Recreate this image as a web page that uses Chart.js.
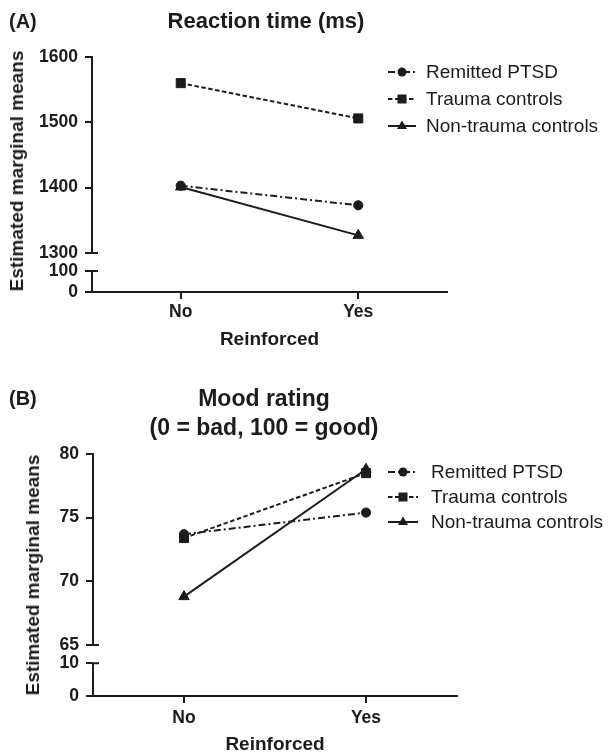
<!DOCTYPE html>
<html>
<head>
<meta charset="utf-8">
<script src="https://cdn.jsdelivr.net/npm/chart.js@4.4.1/dist/chart.umd.min.js"></script>
<style>
html, body { margin: 0; padding: 0; background: #fff; width: 611px; height: 755px; overflow: hidden; }
body { position: relative; font-family: "Liberation Sans", Arial, sans-serif; color: #1c1c1c; }
.panel { position: absolute; left: 0; width: 611px; }
.panel canvas { position: absolute; left: 0; top: 0; }
.tag { position: absolute; left: 9px; font-weight: bold; font-size: 20px; line-height: 24px; }
.title { position: absolute; font-weight: bold; text-align: center; white-space: nowrap;
         transform: translateX(-50%); }
.ytitle { position: absolute; font-weight: bold; font-size: 19px; white-space: nowrap;
          transform: translate(-50%, -50%) rotate(-90deg); }
.legend { position: absolute; left: 388px; font-size: 19px; }
.legend .row { display: flex; align-items: center; }
.legend svg { display: block; }
</style>
</head>
<body>

<div class="panel" id="panelA" style="top:0;height:355px;">
    <canvas id="chartA" width="530" height="355"></canvas>
    <div class="tag" style="top:9px;">(A)</div>
    <div class="title" style="left:266px;top:8px;font-size:22px;line-height:26px;">Reaction time (ms)</div>
    <div class="ytitle" style="left:17px;top:171px;">Estimated marginal means</div>
    <div class="legend" id="legendA" style="top:58px;"></div>
</div>

<div class="panel" id="panelB" style="top:360px;height:395px;">
    <canvas id="chartB" width="530" height="398"></canvas>
    <div class="tag" style="top:26px;">(B)</div>
    <div class="title" style="left:264px;top:24px;font-size:23px;line-height:28.7px;">Mood rating<br>(0 = bad, 100 = good)</div>
    <div class="ytitle" style="left:33px;top:215px;">Estimated marginal means</div>
    <div class="legend" id="legendB" style="top:99px;"></div>
</div>

<script>
// Chart data
const categories = ["No", "Yes"];
const seriesNames = ["Remitted PTSD", "Trauma controls", "Non-trauma controls"];

// (A) Reaction time (ms)
const rtRemitted = [1403, 1373];
const rtTrauma = [1560, 1506];
const rtNonTrauma = [1401, 1327];

// (B) Mood rating
const moodRemitted = [73.7, 75.4];
const moodTrauma = [73.4, 78.5];
const moodNonTrauma = [68.8, 78.8];

// Axis ticks (upper part / lower part of the broken axis)
const rtTicks = [1300, 1400, 1500, 1600];
const rtLowTicks = [0, 100];
const moodTicks = [65, 70, 75, 80];
const moodLowTicks = [0, 10];

const INK = "#1c1c1c";
const FONT = "'Liberation Sans', Arial, sans-serif";

// line style per group
const seriesStyle = [
    { dash: [7, 3, 2, 3], point: "circle", radius: 4.6 },
    { dash: [4.5, 2.5], point: "rect", radius: 6.4 },
    { dash: [], point: "triangle", radius: 6 }
];

// draws the lower piece of the y axis and the caps at the break
const axisBreak = {
    id: "axisBreak",
    afterDraw(chart) {
        const up = chart.scales.y;
        const low = chart.scales.yLow;
        const ctx = chart.ctx;
        const x = chart.chartArea.left;
        const lowTop = low.getPixelForValue(low.ticks[low.ticks.length - 1].value);
        const lowBottom = low.getPixelForValue(0);
        const upBottom = up.getPixelForValue(up.min);
        ctx.save();
        ctx.strokeStyle = INK;
        ctx.lineWidth = 2;
        ctx.beginPath();
        ctx.moveTo(x, lowTop - 1);
        ctx.lineTo(x, lowBottom);
        ctx.moveTo(x - 1, upBottom);
        ctx.lineTo(x + 6, upBottom);
        ctx.moveTo(x - 1, lowTop);
        ctx.lineTo(x + 6, lowTop);
        ctx.stroke();
        ctx.restore();
    }
};

function makeDatasets(values) {
    return values.map((vals, i) => ({
        label: seriesNames[i],
        data: vals,
        borderColor: INK,
        backgroundColor: INK,
        borderWidth: 2,
        borderDash: seriesStyle[i].dash,
        pointStyle: seriesStyle[i].point,
        pointRadius: seriesStyle[i].radius,
        pointBackgroundColor: INK,
        pointBorderColor: INK,
        pointBorderWidth: 1,
        tension: 0
    }));
}

function makeChart(id, p) {
    const tickFont = { family: FONT, size: 17.5, weight: "bold" };
    return new Chart(document.getElementById(id), {
        type: "line",
        data: { labels: categories, datasets: makeDatasets(p.values) },
        options: {
            responsive: false,
            animation: false,
            layout: { padding: { left: 0, right: p.padRight, top: p.padTop, bottom: 0 } },
            plugins: {
                legend: { display: false },
                tooltip: { enabled: false }
            },
            scales: {
                x: {
                    type: "category",
                    offset: true,
                    afterFit: s => { s.height = p.xHeight; },
                    grid: { drawOnChartArea: false, drawTicks: true, tickLength: 7, color: INK, lineWidth: 2 },
                    border: { display: true, color: INK, width: 2 },
                    ticks: { color: INK, font: tickFont, padding: p.xTickPad, maxRotation: 0 },
                    title: {
                        display: true, text: "Reinforced", color: INK,
                        font: { family: FONT, size: 19, weight: "bold", lineHeight: 1.2 },
                        padding: { top: 0, bottom: p.xTitlePad }
                    }
                },
                y: {
                    type: "linear",
                    position: "left",
                    stack: "left",
                    stackWeight: p.upperWeight,
                    weight: 2,
                    min: p.ticks[0],
                    max: p.ticks[p.ticks.length - 1],
                    afterFit: s => { s.width = p.yWidth; },
                    afterBuildTicks: s => { s.ticks = p.ticks.map(v => ({ value: v })); },
                    grid: { drawOnChartArea: false, drawTicks: true, tickLength: 7, color: INK, lineWidth: 2 },
                    border: { display: true, color: INK, width: 2 },
                    ticks: { color: INK, font: tickFont, padding: 7, callback: v => String(v) }
                },
                yLow: {
                    type: "linear",
                    position: "left",
                    stack: "left",
                    stackWeight: p.lowerWeight,
                    weight: 1,
                    min: 0,
                    max: p.lowMax,
                    afterFit: s => { s.width = p.yWidth; },
                    afterBuildTicks: s => { s.ticks = p.lowTicks.map(v => ({ value: v })); },
                    grid: { drawOnChartArea: false, drawTicks: true, tickLength: 7, color: INK, lineWidth: 2 },
                    border: { display: false },
                    ticks: { color: INK, font: tickFont, padding: 7, callback: v => String(v) }
                }
            }
        },
        plugins: [axisBreak]
    });
}

function makeLegend(id, rowH, symW, gap) {
    const box = document.getElementById(id);
    seriesNames.forEach((name, i) => {
        const st = seriesStyle[i];
        const row = document.createElement("div");
        row.className = "row";
        row.style.height = rowH + "px";
        const c = symW / 2, m = 6;
        let marker = "";
        if (st.point === "circle") marker = `<circle cx="${c}" cy="${m}" r="4.5" fill="${INK}"/>`;
        else if (st.point === "rect") marker = `<rect x="${c - 4.5}" y="${m - 4.5}" width="9" height="9" fill="${INK}"/>`;
        else marker = `<polygon points="${c},${m - 5.5} ${c + 5},${m + 3} ${c - 5},${m + 3}" fill="${INK}"/>`;
        const dash = st.dash.length ? `stroke-dasharray="${st.dash.join(" ")}"` : "";
        row.innerHTML =
            `<svg width="${symW}" height="12"><line x1="0" y1="${m}" x2="${symW}" y2="${m}" stroke="${INK}" stroke-width="2" ${dash}/>${marker}</svg>` +
            `<span style="margin-left:${gap}px">${name}</span>`;
        box.appendChild(row);
    });
}

makeChart("chartA", {
    values: [rtRemitted, rtTrauma, rtNonTrauma],
    ticks: rtTicks,
    lowTicks: rtLowTicks,
    lowMax: 186,
    upperWeight: 196,
    lowerWeight: 39,
    padTop: 57,
    padRight: 83,
    yWidth: 92,
    xHeight: 63,
    xTickPad: 3,
    xTitlePad: 4
});

makeChart("chartB", {
    values: [moodRemitted, moodTrauma, moodNonTrauma],
    ticks: moodTicks,
    lowTicks: moodLowTicks,
    lowMax: 15.6,
    upperWeight: 191,
    lowerWeight: 51,
    padTop: 94,
    padRight: 73,
    yWidth: 93,
    xHeight: 62,
    xTickPad: 5,
    xTitlePad: 2
});

makeLegend("legendA", 27, 28, 10);
makeLegend("legendB", 25, 30, 13);
</script>
</body>
</html>
